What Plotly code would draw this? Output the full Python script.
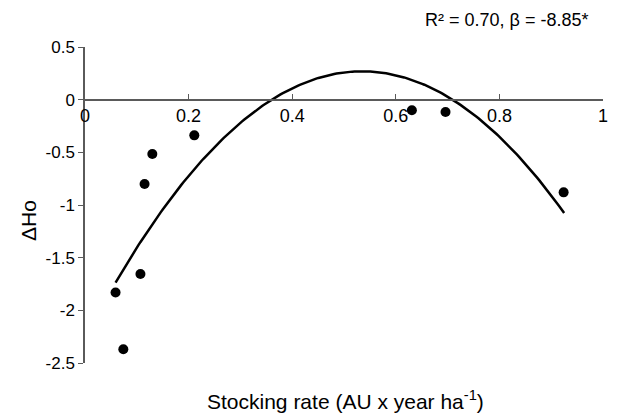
import numpy as np
import plotly.graph_objects as go

# Observed points
stocking_rate = [0.059, 0.074, 0.107, 0.115, 0.130, 0.211, 0.631, 0.696, 0.924]
delta_ho = [-1.83, -2.37, -1.655, -0.80, -0.516, -0.339, -0.10, -0.117, -0.88]

# Quadratic fit (y = a x^2 + b x + c) shown on the chart
fit_a = -8.85
fit_b = 9.47
fit_c = -2.264
fit_x_min = 0.059
fit_x_max = 0.925

x_tick_vals = [0, 0.2, 0.4, 0.6, 0.8, 1]
x_tick_text = ["0", "0.2", "0.4", "0.6", "0.8", "1"]
y_tick_vals = [0.5, 0, -0.5, -1, -1.5, -2, -2.5]
y_tick_text = ["0.5", "0", "-0.5", "-1", "-1.5", "-2", "-2.5"]

annotation_text = "R² = 0.70, β = -8.85*"
x_title = "Stocking rate (AU x year ha<sup>-1</sup>)"
y_title = "ΔHo"

fit_x = np.linspace(fit_x_min, fit_x_max, 200)
fit_y = np.polyval([fit_a, fit_b, fit_c], fit_x)

font_family = "Liberation Sans, Arial, Helvetica, sans-serif"
axis_color = "#5a5a5a"

fig = go.Figure()
fig.add_trace(go.Scatter(
    x=fit_x, y=fit_y, mode="lines",
    line=dict(color="black", width=2.5),
    hoverinfo="skip", showlegend=False,
))
fig.add_trace(go.Scatter(
    x=stocking_rate, y=delta_ho, mode="markers",
    marker=dict(color="black", size=10),
    showlegend=False,
))

y_min, y_max = -2.5, 0.5
fig.update_layout(
    width=620, height=414,
    margin=dict(l=85, r=12.5, t=47, b=51),
    paper_bgcolor="white", plot_bgcolor="white",
    font=dict(family=font_family, color="black"),
    xaxis=dict(
        range=[0, 1], anchor="free", position=(0 - y_min) / (y_max - y_min),
        tickvals=x_tick_vals, ticktext=x_tick_text,
        ticks="inside", ticklen=5, tickcolor=axis_color, tickwidth=1,
        showline=True, linecolor=axis_color, linewidth=1.5,
        showgrid=False, zeroline=False,
        tickfont=dict(size=18, color="black"),
    ),
    yaxis=dict(
        range=[y_min, y_max], domain=[0, 1],
        tickvals=y_tick_vals, ticktext=y_tick_text,
        ticks="outside", ticklen=5, tickcolor=axis_color, tickwidth=1,
        showline=True, linecolor=axis_color, linewidth=1.5,
        showgrid=False, zeroline=False,
        tickfont=dict(size=17, color="black"),
    ),
    annotations=[
        dict(text=annotation_text, xref="paper", yref="paper",
             x=0.974, y=1.085, xanchor="right", yanchor="middle",
             showarrow=False, font=dict(size=18, color="black")),
        dict(text=x_title, xref="paper", yref="paper",
             x=0.502, y=-0.117, xanchor="center", yanchor="middle",
             showarrow=False, font=dict(size=21, color="black")),
        dict(text=y_title, xref="paper", yref="paper",
             x=-0.109, y=0.451, xanchor="center", yanchor="middle",
             textangle=-90, showarrow=False, font=dict(size=21, color="black")),
    ],
)

fig.write_html("out.html", config={"displayModeBar": False},
               post_script="document.body.style.margin='0';")
